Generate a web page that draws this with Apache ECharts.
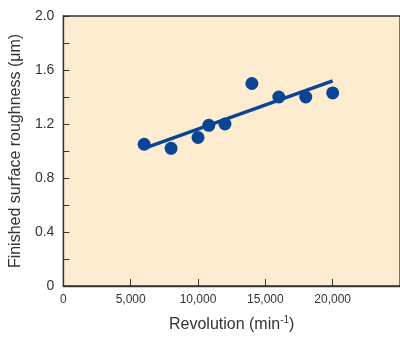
<!DOCTYPE html>
<html>
<head>
<meta charset="utf-8">
<script src="https://cdn.jsdelivr.net/npm/echarts@6/dist/echarts.min.js"></script>
<style>html,body{margin:0;padding:0;background:#fff}#c{width:400px;height:338px}</style>
</head>
<body>
<div id="c"></div>
<script>
const revolution = [6000, 8000, 10000, 10800, 12000, 14000, 16000, 18000, 20000];
const roughness = [1.05, 1.02, 1.10, 1.19, 1.20, 1.50, 1.40, 1.40, 1.43];
const fitX = [6000, 20000];
const fitY = [1.02, 1.52];
const xTitle = 'Revolution (min';
const xTitleSup = '-1';
const yTitle = 'Finished surface roughness (μm)';

const FONT = '"Liberation Sans", Arial, sans-serif';
const BLUE = '#0a4595';
const chart = echarts.init(document.getElementById('c'), null, {renderer: 'canvas'});
chart.setOption({
  animation: false,
  grid: {
    left: 62, top: 16, bottom: 48, width: 341.7,
    show: true, backgroundColor: '#fdecd0', borderColor: '#333', borderWidth: 1.3
  },
  xAxis: {
    type: 'value', min: 0, max: 25000, interval: 5000,
    name: '{a|' + xTitle + '}{s|' + xTitleSup + '}{a|)}',
    nameLocation: 'middle', nameGap: 29,
    nameTextStyle: {
      rich: {
        a: {fontSize: 16, fontFamily: FONT, color: '#333', lineHeight: 20},
        s: {fontSize: 10, fontFamily: FONT, color: '#333', verticalAlign: 'top', lineHeight: 20, padding: [0, 0, 6, 0]}
      }
    },
    axisLine: {show: true, lineStyle: {color: '#333', width: 1.3}},
    axisTick: {show: true, inside: true, length: 7, lineStyle: {color: '#333', width: 1}},
    axisLabel: {
      fontSize: 12, fontFamily: FONT, color: '#333', margin: 8, showMaxLabel: false,
      formatter: function (v) { return v === 0 ? '0' : v.toLocaleString('en-US'); }
    },
    splitLine: {show: false}
  },
  yAxis: {
    type: 'value', min: 0, max: 2.0, interval: 0.2,
    name: yTitle, nameLocation: 'middle', nameGap: 31, nameRotate: 90,
    nameTextStyle: {fontSize: 16, fontFamily: FONT, color: '#333'},
    axisLine: {show: true, lineStyle: {color: '#333', width: 1.3}},
    axisTick: {show: true, inside: true, length: 6, lineStyle: {color: '#333', width: 1}},
    axisLabel: {
      fontSize: 14, fontFamily: FONT, color: '#333', margin: 9,
      formatter: function (v) {
        const r = Math.round(v * 10);
        if (r % 4 !== 0) return '';
        return r === 0 ? '0' : (r / 10).toFixed(1);
      }
    },
    splitLine: {show: false}
  },
  series: [
    {
      type: 'line',
      data: fitX.map((x, i) => [x, fitY[i]]),
      showSymbol: false, symbol: 'none',
      lineStyle: {color: BLUE, width: 3.5},
      z: 2
    },
    {
      type: 'scatter',
      data: revolution.map((x, i) => [x, roughness[i]]),
      symbol: 'circle', symbolSize: 13,
      itemStyle: {color: BLUE, opacity: 1},
      z: 3
    }
  ]
});
</script>
</body>
</html>
